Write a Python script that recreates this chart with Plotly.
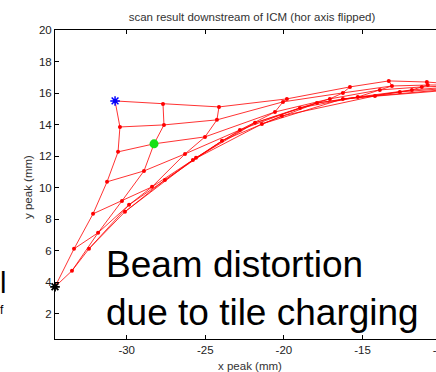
import plotly.graph_objects as go

# Measured beam centroid positions (mm) for the 7 x 8 scan grid.
# Each inner list is one scan row, left to right.
x_peak = [
    [-30.74, -27.69, -24.13, -19.81, -15.80, -13.33, -10.91, -9.32],
    [-30.43, -27.63, -24.26, -20.06, -16.25, -13.13, -10.85, -9.32],
    [-30.55, -28.26, -25.02, -20.57, -17.08, -13.90, -11.23, -9.32],
    [-31.25, -28.90, -26.29, -22.80, -18.98, -15.30, -11.86, -9.32],
    [-32.14, -30.30, -28.39, -25.59, -21.84, -17.90, -12.63, -9.32],
    [-33.35, -31.82, -29.85, -27.57, -23.94, -20.13, -14.21, -9.32],
    [-34.56, -33.48, -32.40, -30.11, -25.79, -21.40, -16.25, -9.32],
]
y_peak = [
    [15.50, 15.31, 15.12, 15.63, 16.39, 16.77, 16.70, 16.58],
    [13.85, 13.98, 14.30, 15.44, 16.01, 16.45, 16.51, 16.51],
    [12.27, 12.78, 13.22, 14.80, 15.63, 16.20, 16.39, 16.45],
    [10.37, 11.06, 12.14, 13.66, 15.06, 15.75, 16.20, 16.39],
    [8.34, 9.16, 10.05, 11.89, 14.11, 15.37, 16.07, 16.32],
    [6.12, 7.14, 8.91, 10.49, 12.97, 14.55, 15.82, 16.26],
    [3.71, 4.73, 6.12, 8.47, 11.76, 14.04, 15.63, 16.20],
]

# Highlighted scan points (row, column)
first_point = (0, 0)
last_point = (6, 0)
marked_point = (2, 1)

x_ticks = [-30, -25, -20, -15, -10]
y_ticks = [2, 4, 6, 8, 10, 12, 14, 16, 18, 20]

title_text = "scan result downstream of ICM (hor axis flipped)"
x_label = "x peak (mm)"
y_label = "y peak (mm)"
note_text = "Beam distortion<br>due to tile charging"

line_red = "rgba(255,0,0,0.8)"
font_family = "Liberation Sans, Arial"
n_rows = len(x_peak)
n_cols = len(x_peak[0])

fig = go.Figure()

# grid rows with point markers
for i in range(n_rows):
    fig.add_trace(go.Scatter(
        x=x_peak[i], y=y_peak[i], mode="lines+markers",
        line=dict(color=line_red, width=1),
        marker=dict(color="red", size=4),
        hoverinfo="skip", showlegend=False,
    ))

# grid columns
for j in range(n_cols):
    fig.add_trace(go.Scatter(
        x=[x_peak[i][j] for i in range(n_rows)],
        y=[y_peak[i][j] for i in range(n_rows)],
        mode="lines",
        line=dict(color=line_red, width=1),
        hoverinfo="skip", showlegend=False,
    ))

# start / end / marked points
r, c = first_point
fig.add_trace(go.Scatter(
    x=[x_peak[r][c]], y=[y_peak[r][c]], mode="markers",
    marker=dict(symbol="asterisk-open", size=8, color="blue",
                line=dict(color="blue", width=1.5)),
    hoverinfo="skip", showlegend=False,
))
r, c = last_point
fig.add_trace(go.Scatter(
    x=[x_peak[r][c]], y=[y_peak[r][c]], mode="markers",
    marker=dict(symbol="asterisk-open", size=8, color="black",
                line=dict(color="black", width=1.8)),
    hoverinfo="skip", showlegend=False, cliponaxis=False,
))
r, c = marked_point
fig.add_trace(go.Scatter(
    x=[x_peak[r][c]], y=[y_peak[r][c]], mode="markers",
    marker=dict(symbol="circle", size=9, color="rgb(20,225,20)"),
    hoverinfo="skip", showlegend=False,
))

axis_common = dict(
    showline=True, linecolor="black", linewidth=1, mirror="ticks",
    ticks="inside", ticklen=4, tickcolor="black",
    showgrid=False, zeroline=False,
    tickfont=dict(family=font_family, size=11.5, color="#222"),
)

fig.update_layout(
    width=452, height=372,
    margin=dict(l=55, r=3, t=30, b=33),
    paper_bgcolor="white", plot_bgcolor="white",
    xaxis=dict(range=[-34.56, -9.5], tickvals=x_ticks,
               ticktext=[str(v) for v in x_ticks], **axis_common),
    yaxis=dict(range=[0.4, 20], tickvals=y_ticks, **axis_common),
    title=dict(text=title_text, x=0.5, xref="paper", xanchor="center",
               y=1 - 17 / 372, yref="container", yanchor="middle",
               font=dict(family=font_family, size=11.5, color="#333")),
    annotations=[
        dict(text=x_label, xref="paper", yref="paper", x=0.495, y=-0.087,
             xanchor="center", yanchor="middle", showarrow=False,
             font=dict(family=font_family, size=11.5, color="#333")),
        dict(text=y_label, xref="paper", yref="paper", x=-0.0685, y=0.492,
             xanchor="center", yanchor="middle", textangle=-90, showarrow=False,
             font=dict(family=font_family, size=11.5, color="#333")),
        dict(text=note_text, xref="paper", yref="paper", x=0.125, y=0.165,
             xanchor="left", yanchor="middle", align="left", showarrow=False,
             font=dict(family=font_family, size=37, color="black")),
        dict(text="l", xref="paper", yref="paper", x=-0.1228, y=0.18,
             xanchor="right", yanchor="middle", showarrow=False, borderpad=0,
             font=dict(family=font_family, size=29, color="black")),
        dict(text="f", xref="paper", yref="paper", x=-0.128, y=0.095,
             xanchor="right", yanchor="middle", showarrow=False, borderpad=0,
             font=dict(family=font_family, size=12, color="black")),
    ],
)

fig.write_html(
    "out.html",
    post_script="document.documentElement.style.overflow='hidden';"
                "document.body.style.overflow='hidden';",
)
